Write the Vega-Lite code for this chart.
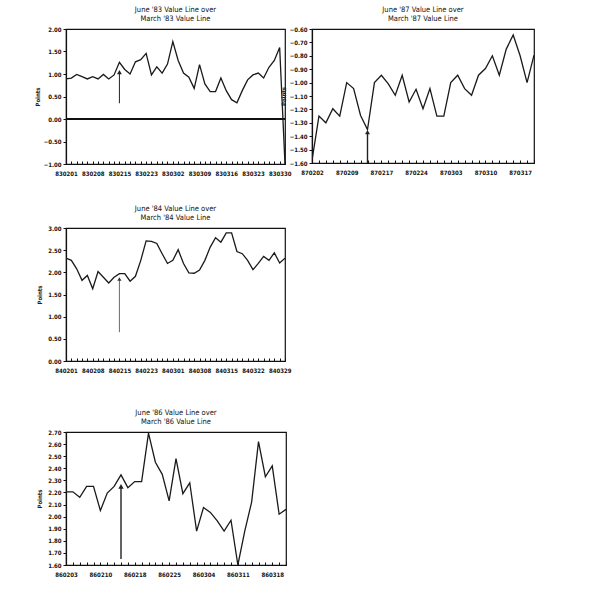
{
  "$schema": "https://vega.github.io/schema/vega-lite/v6.json",
  "description": "Four scanned charts: June Value Line over March Value Line, 1983, 1987, 1984, 1986",
  "background": "white",
  "padding": {"left": 33, "top": 4, "right": 5, "bottom": 5},
  "datasets": {
    "lines": [
      {"panel": "83", "date": "830201", "value": 0.89},
      {"panel": "83", "date": "830202", "value": 0.91},
      {"panel": "83", "date": "830203", "value": 0.99},
      {"panel": "83", "date": "830204", "value": 0.94},
      {"panel": "83", "date": "830207", "value": 0.89},
      {"panel": "83", "date": "830208", "value": 0.94},
      {"panel": "83", "date": "830209", "value": 0.89},
      {"panel": "83", "date": "830210", "value": 0.99},
      {"panel": "83", "date": "830211", "value": 0.89},
      {"panel": "83", "date": "830214", "value": 0.98},
      {"panel": "83", "date": "830215", "value": 1.26},
      {"panel": "83", "date": "830216", "value": 1.10},
      {"panel": "83", "date": "830217", "value": 1.00},
      {"panel": "83", "date": "830218", "value": 1.27},
      {"panel": "83", "date": "830222", "value": 1.32},
      {"panel": "83", "date": "830223", "value": 1.46},
      {"panel": "83", "date": "830224", "value": 0.98},
      {"panel": "83", "date": "830225", "value": 1.16},
      {"panel": "83", "date": "830228", "value": 1.02},
      {"panel": "83", "date": "830301", "value": 1.22},
      {"panel": "83", "date": "830302", "value": 1.72},
      {"panel": "83", "date": "830303", "value": 1.30},
      {"panel": "83", "date": "830304", "value": 1.02},
      {"panel": "83", "date": "830307", "value": 0.93},
      {"panel": "83", "date": "830308", "value": 0.68},
      {"panel": "83", "date": "830309", "value": 1.21},
      {"panel": "83", "date": "830310", "value": 0.78},
      {"panel": "83", "date": "830311", "value": 0.61},
      {"panel": "83", "date": "830314", "value": 0.61},
      {"panel": "83", "date": "830315", "value": 0.91},
      {"panel": "83", "date": "830316", "value": 0.63},
      {"panel": "83", "date": "830317", "value": 0.43},
      {"panel": "83", "date": "830318", "value": 0.36},
      {"panel": "83", "date": "830321", "value": 0.63},
      {"panel": "83", "date": "830322", "value": 0.87},
      {"panel": "83", "date": "830323", "value": 0.98},
      {"panel": "83", "date": "830324", "value": 1.02},
      {"panel": "83", "date": "830325", "value": 0.91},
      {"panel": "83", "date": "830328", "value": 1.15},
      {"panel": "83", "date": "830329", "value": 1.30},
      {"panel": "83", "date": "830330", "value": 1.59},
      {"panel": "83", "date": "830331", "value": -1.00},

      {"panel": "87", "date": "870202", "value": -1.58},
      {"panel": "87", "date": "870203", "value": -1.25},
      {"panel": "87", "date": "870204", "value": -1.30},
      {"panel": "87", "date": "870205", "value": -1.195},
      {"panel": "87", "date": "870206", "value": -1.25},
      {"panel": "87", "date": "870209", "value": -1.00},
      {"panel": "87", "date": "870210", "value": -1.045},
      {"panel": "87", "date": "870211", "value": -1.245},
      {"panel": "87", "date": "870212", "value": -1.35},
      {"panel": "87", "date": "870213", "value": -1.00},
      {"panel": "87", "date": "870217", "value": -0.945},
      {"panel": "87", "date": "870218", "value": -1.01},
      {"panel": "87", "date": "870219", "value": -1.095},
      {"panel": "87", "date": "870220", "value": -0.945},
      {"panel": "87", "date": "870223", "value": -1.145},
      {"panel": "87", "date": "870224", "value": -1.05},
      {"panel": "87", "date": "870225", "value": -1.195},
      {"panel": "87", "date": "870226", "value": -1.045},
      {"panel": "87", "date": "870227", "value": -1.25},
      {"panel": "87", "date": "870302", "value": -1.25},
      {"panel": "87", "date": "870303", "value": -1.00},
      {"panel": "87", "date": "870304", "value": -0.945},
      {"panel": "87", "date": "870305", "value": -1.045},
      {"panel": "87", "date": "870306", "value": -1.095},
      {"panel": "87", "date": "870309", "value": -0.945},
      {"panel": "87", "date": "870310", "value": -0.895},
      {"panel": "87", "date": "870311", "value": -0.80},
      {"panel": "87", "date": "870312", "value": -0.945},
      {"panel": "87", "date": "870313", "value": -0.75},
      {"panel": "87", "date": "870316", "value": -0.645},
      {"panel": "87", "date": "870317", "value": -0.80},
      {"panel": "87", "date": "870318", "value": -1.00},
      {"panel": "87", "date": "870319", "value": -0.795},

      {"panel": "84", "date": "840201", "value": 2.32},
      {"panel": "84", "date": "840202", "value": 2.27},
      {"panel": "84", "date": "840203", "value": 2.08},
      {"panel": "84", "date": "840206", "value": 1.82},
      {"panel": "84", "date": "840207", "value": 1.93},
      {"panel": "84", "date": "840208", "value": 1.63},
      {"panel": "84", "date": "840209", "value": 2.02},
      {"panel": "84", "date": "840210", "value": 1.89},
      {"panel": "84", "date": "840213", "value": 1.76},
      {"panel": "84", "date": "840214", "value": 1.89},
      {"panel": "84", "date": "840215", "value": 1.97},
      {"panel": "84", "date": "840216", "value": 1.97},
      {"panel": "84", "date": "840217", "value": 1.80},
      {"panel": "84", "date": "840221", "value": 1.91},
      {"panel": "84", "date": "840222", "value": 2.27},
      {"panel": "84", "date": "840223", "value": 2.71},
      {"panel": "84", "date": "840224", "value": 2.70},
      {"panel": "84", "date": "840227", "value": 2.65},
      {"panel": "84", "date": "840228", "value": 2.42},
      {"panel": "84", "date": "840229", "value": 2.20},
      {"panel": "84", "date": "840301", "value": 2.27},
      {"panel": "84", "date": "840302", "value": 2.51},
      {"panel": "84", "date": "840305", "value": 2.20},
      {"panel": "84", "date": "840306", "value": 1.99},
      {"panel": "84", "date": "840307", "value": 1.98},
      {"panel": "84", "date": "840308", "value": 2.05},
      {"panel": "84", "date": "840309", "value": 2.27},
      {"panel": "84", "date": "840312", "value": 2.57},
      {"panel": "84", "date": "840313", "value": 2.78},
      {"panel": "84", "date": "840314", "value": 2.68},
      {"panel": "84", "date": "840315", "value": 2.89},
      {"panel": "84", "date": "840316", "value": 2.89},
      {"panel": "84", "date": "840319", "value": 2.47},
      {"panel": "84", "date": "840320", "value": 2.42},
      {"panel": "84", "date": "840321", "value": 2.27},
      {"panel": "84", "date": "840322", "value": 2.06},
      {"panel": "84", "date": "840323", "value": 2.20},
      {"panel": "84", "date": "840326", "value": 2.36},
      {"panel": "84", "date": "840327", "value": 2.27},
      {"panel": "84", "date": "840328", "value": 2.44},
      {"panel": "84", "date": "840329", "value": 2.21},
      {"panel": "84", "date": "840330", "value": 2.32},

      {"panel": "86", "date": "860203", "value": 2.205},
      {"panel": "86", "date": "860204", "value": 2.205},
      {"panel": "86", "date": "860205", "value": 2.16},
      {"panel": "86", "date": "860206", "value": 2.25},
      {"panel": "86", "date": "860207", "value": 2.25},
      {"panel": "86", "date": "860210", "value": 2.05},
      {"panel": "86", "date": "860211", "value": 2.195},
      {"panel": "86", "date": "860212", "value": 2.25},
      {"panel": "86", "date": "860213", "value": 2.345},
      {"panel": "86", "date": "860214", "value": 2.24},
      {"panel": "86", "date": "860218", "value": 2.29},
      {"panel": "86", "date": "860219", "value": 2.29},
      {"panel": "86", "date": "860220", "value": 2.69},
      {"panel": "86", "date": "860221", "value": 2.45},
      {"panel": "86", "date": "860224", "value": 2.35},
      {"panel": "86", "date": "860225", "value": 2.13},
      {"panel": "86", "date": "860226", "value": 2.48},
      {"panel": "86", "date": "860227", "value": 2.19},
      {"panel": "86", "date": "860228", "value": 2.28},
      {"panel": "86", "date": "860303", "value": 1.88},
      {"panel": "86", "date": "860304", "value": 2.075},
      {"panel": "86", "date": "860305", "value": 2.035},
      {"panel": "86", "date": "860306", "value": 1.965},
      {"panel": "86", "date": "860307", "value": 1.88},
      {"panel": "86", "date": "860310", "value": 1.97},
      {"panel": "86", "date": "860311", "value": 1.60},
      {"panel": "86", "date": "860312", "value": 1.88},
      {"panel": "86", "date": "860313", "value": 2.12},
      {"panel": "86", "date": "860314", "value": 2.62},
      {"panel": "86", "date": "860317", "value": 2.33},
      {"panel": "86", "date": "860318", "value": 2.42},
      {"panel": "86", "date": "860319", "value": 2.02},
      {"panel": "86", "date": "860320", "value": 2.06}
    ],
    "arrows": [
      {"panel": "83", "date": "830215", "from": 0.35, "to": 1.04},
      {"panel": "87", "date": "870212", "from": -1.6, "to": -1.37},
      {"panel": "84", "date": "840215", "from": 0.65, "to": 1.85},
      {"panel": "86", "date": "860213", "from": 1.65, "to": 2.25}
    ]
  },
  "vconcat": [
    {
      "vconcat": [
        {
          "hconcat": [
            {
              "width": 219,
              "height": 135,
              "title": {"text": ["June '83 Value Line over", "March '83 Value Line"]},
              "data": {"name": "lines"},
              "transform": [{"filter": "datum.panel === '83'"}],
              "layer": [
                {
                  "mark": {"type": "rule", "color": "#111", "strokeWidth": 1.6},
                  "encoding": {"y": {"datum": 0, "type": "quantitative", "scale": {"domain": [-1, 2], "nice": false}, "axis": {"values": [-1, -0.5, 0, 0.5, 1, 1.5, 2], "title": "Points"}}}
                },
                {
                  "mark": {"type": "line", "color": "#1a1a1a", "strokeWidth": 1.3, "clip": true},
                  "encoding": {
                    "x": {
                      "field": "date", "type": "ordinal", "sort": null,
                      "scale": {"type": "point", "padding": 0},
                      "axis": {"labelExpr": "indexof(['830201','830208','830215','830223','830302','830309','830316','830323','830330'], datum.value) >= 0 ? datum.value : ''"}
                    },
                    "y": {
                      "field": "value", "type": "quantitative",
                      "scale": {"domain": [-1, 2], "nice": false},
                      "axis": {"values": [-1, -0.5, 0, 0.5, 1, 1.5, 2], "title": "Points"}
                    }
                  }
                },
                {
                  "data": {"name": "arrows"},
                  "transform": [{"filter": "datum.panel === '83'"}],
                  "mark": {"type": "rule", "color": "#222", "strokeWidth": 1},
                  "encoding": {
                    "x": {"field": "date", "type": "ordinal"},
                    "y": {"field": "from", "type": "quantitative", "axis": {"values": [-1, -0.5, 0, 0.5, 1, 1.5, 2], "title": "Points"}},
                    "y2": {"field": "to"}
                  }
                },
                {
                  "data": {"name": "arrows"},
                  "transform": [{"filter": "datum.panel === '83'"}],
                  "mark": {"type": "point", "shape": "triangle-up", "filled": true, "color": "#222", "size": 24, "opacity": 1},
                  "encoding": {
                    "x": {"field": "date", "type": "ordinal"},
                    "y": {"field": "to", "type": "quantitative", "axis": {"values": [-1, -0.5, 0, 0.5, 1, 1.5, 2], "title": "Points"}}
                  }
                }
              ]
            },
            {
              "width": 222,
              "height": 134,
              "title": {"text": ["June '87 Value Line over", "March '87 Value Line"]},
              "data": {"name": "lines"},
              "transform": [{"filter": "datum.panel === '87'"}],
              "layer": [
                {
                  "mark": {"type": "line", "color": "#1a1a1a", "strokeWidth": 1.3, "clip": true},
                  "encoding": {
                    "x": {
                      "field": "date", "type": "ordinal", "sort": null,
                      "scale": {"type": "point", "padding": 0},
                      "axis": {"labelExpr": "indexof(['870202','870209','870217','870224','870303','870310','870317'], datum.value) >= 0 ? datum.value : ''"}
                    },
                    "y": {
                      "field": "value", "type": "quantitative",
                      "scale": {"domain": [-1.6, -0.6], "nice": false},
                      "axis": {"values": [-1.6, -1.5, -1.4, -1.3, -1.2, -1.1, -1.0, -0.9, -0.8, -0.7, -0.6], "title": "Points"}
                    }
                  }
                },
                {
                  "data": {"name": "arrows"},
                  "transform": [{"filter": "datum.panel === '87'"}],
                  "mark": {"type": "rule", "color": "#222", "strokeWidth": 1.4},
                  "encoding": {
                    "x": {"field": "date", "type": "ordinal"},
                    "y": {"field": "from", "type": "quantitative", "axis": {"values": [-1.6, -1.5, -1.4, -1.3, -1.2, -1.1, -1.0, -0.9, -0.8, -0.7, -0.6], "title": "Points"}},
                    "y2": {"field": "to"}
                  }
                },
                {
                  "data": {"name": "arrows"},
                  "transform": [{"filter": "datum.panel === '87'"}],
                  "mark": {"type": "point", "shape": "triangle-up", "filled": true, "color": "#222", "size": 24, "opacity": 1},
                  "encoding": {
                    "x": {"field": "date", "type": "ordinal"},
                    "y": {"field": "to", "type": "quantitative", "axis": {"values": [-1.6, -1.5, -1.4, -1.3, -1.2, -1.1, -1.0, -0.9, -0.8, -0.7, -0.6], "title": "Points"}}
                  }
                }
              ]
            }
          ],
          "spacing": -13
        },
        {
          "width": 219,
          "height": 133,
          "title": {"text": ["June '84 Value Line over", "March '84 Value Line"]},
          "data": {"name": "lines"},
          "transform": [{"filter": "datum.panel === '84'"}],
          "layer": [
            {
              "mark": {"type": "line", "color": "#1a1a1a", "strokeWidth": 1.3, "clip": true},
              "encoding": {
                "x": {
                  "field": "date", "type": "ordinal", "sort": null,
                  "scale": {"type": "point", "padding": 0},
                  "axis": {"labelExpr": "indexof(['840201','840208','840215','840223','840301','840308','840315','840322','840329'], datum.value) >= 0 ? datum.value : ''"}
                },
                "y": {
                  "field": "value", "type": "quantitative",
                  "scale": {"domain": [0, 3], "nice": false},
                  "axis": {"values": [0, 0.5, 1, 1.5, 2, 2.5, 3], "title": "Points"}
                }
              }
            },
            {
              "data": {"name": "arrows"},
              "transform": [{"filter": "datum.panel === '84'"}],
              "mark": {"type": "rule", "color": "#444", "strokeWidth": 0.8},
              "encoding": {
                "x": {"field": "date", "type": "ordinal"},
                "y": {"field": "from", "type": "quantitative", "axis": {"values": [0, 0.5, 1, 1.5, 2, 2.5, 3], "title": "Points"}},
                "y2": {"field": "to"}
              }
            },
            {
              "data": {"name": "arrows"},
              "transform": [{"filter": "datum.panel === '84'"}],
              "mark": {"type": "point", "shape": "triangle-up", "filled": true, "color": "#333", "size": 18, "opacity": 1},
              "encoding": {
                "x": {"field": "date", "type": "ordinal"},
                "y": {"field": "to", "type": "quantitative", "axis": {"values": [0, 0.5, 1, 1.5, 2, 2.5, 3], "title": "Points"}}
              }
            }
          ]
        }
      ],
      "spacing": 26
    },
    {
      "width": 220,
      "height": 133,
      "title": {"text": ["June '86 Value Line over", "March '86 Value Line"]},
      "data": {"name": "lines"},
      "transform": [{"filter": "datum.panel === '86'"}],
      "layer": [
        {
          "mark": {"type": "line", "color": "#1a1a1a", "strokeWidth": 1.3, "clip": true},
          "encoding": {
            "x": {
              "field": "date", "type": "ordinal", "sort": null,
              "scale": {"type": "point", "padding": 0},
              "axis": {"labelExpr": "indexof(['860203','860210','860218','860225','860304','860311','860318'], datum.value) >= 0 ? datum.value : ''"}
            },
            "y": {
              "field": "value", "type": "quantitative",
              "scale": {"domain": [1.6, 2.7], "nice": false},
              "axis": {"values": [1.6, 1.7, 1.8, 1.9, 2.0, 2.1, 2.2, 2.3, 2.4, 2.5, 2.6, 2.7], "title": "Points"}
            }
          }
        },
        {
          "data": {"name": "arrows"},
          "transform": [{"filter": "datum.panel === '86'"}],
          "mark": {"type": "rule", "color": "#222", "strokeWidth": 1.4},
          "encoding": {
            "x": {"field": "date", "type": "ordinal"},
            "y": {"field": "from", "type": "quantitative", "axis": {"values": [1.6, 1.7, 1.8, 1.9, 2.0, 2.1, 2.2, 2.3, 2.4, 2.5, 2.6, 2.7], "title": "Points"}},
            "y2": {"field": "to"}
          }
        },
        {
          "data": {"name": "arrows"},
          "transform": [{"filter": "datum.panel === '86'"}],
          "mark": {"type": "point", "shape": "triangle-up", "filled": true, "color": "#222", "size": 28, "opacity": 1},
          "encoding": {
            "x": {"field": "date", "type": "ordinal"},
            "y": {"field": "to", "type": "quantitative", "axis": {"values": [1.6, 1.7, 1.8, 1.9, 2.0, 2.1, 2.2, 2.3, 2.4, 2.5, 2.6, 2.7], "title": "Points"}}
          }
        }
      ]
    }
  ],
  "spacing": 33,
  "config": {
    "font": "DejaVu Sans Condensed, Liberation Sans, sans-serif",
    "view": {"stroke": "#111", "strokeWidth": 1.2},
    "title": {
      "fontSize": 7.5,
      "fontWeight": "normal",
      "color": "#111",
      "lineHeight": 9,
      "offset": 4,
      "anchor": "middle"
    },
    "axis": {
      "grid": false,
      "domainColor": "#111",
      "domainWidth": 1.2,
      "tickColor": "#111",
      "tickWidth": 1,
      "labelColor": "#111",
      "labelFontSize": 6,
      "labelFontWeight": "bold",
      "titleColor": "#222",
      "titleFontSize": 6,
      "titleFontWeight": "bold",
      "titlePadding": 3,
      "labelOverlap": false
    },
    "axisY": {"format": ".2f", "tickSize": 3, "labelPadding": 2, "minExtent": 21},
    "axisX": {"title": null, "labelAngle": 0, "tickSize": -3, "labelPadding": 9}
  }
}
